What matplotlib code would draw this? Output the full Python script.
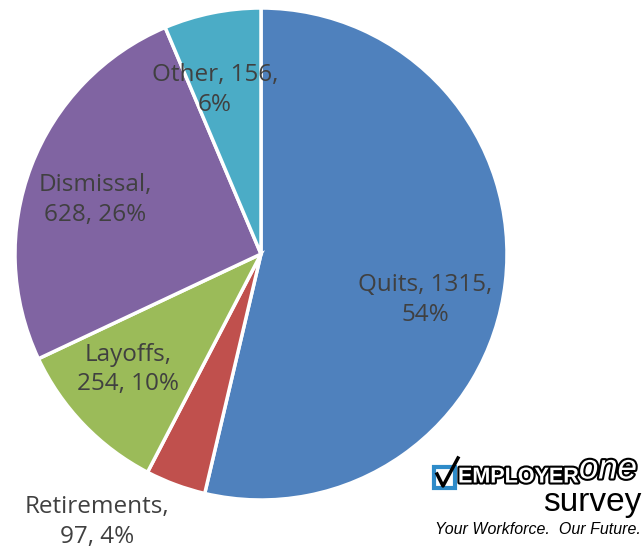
import matplotlib
matplotlib.use("Agg")
from matplotlib import pyplot as plt
import matplotlib.patheffects as pe
import matplotlib.patches as mpatches
from matplotlib.lines import Line2D

categories = ["Quits", "Retirements", "Layoffs", "Dismissal", "Other"]
counts = [1315, 97, 254, 628, 156]
percents = [54, 4, 10, 26, 6]
colors = ["#4F81BD", "#C0504D", "#9BBB59", "#8064A2", "#4BACC6"]

# where the line break goes: after the name, or after the count
breaks = ["count", "name", "name", "name", "count"]
label_pos = [(0.667, -0.187), (-0.667, -1.09), (-0.54, -0.47), (-0.675, 0.22), (-0.187, 0.667)]

fig = plt.figure(figsize=(6.44, 5.53), dpi=100)
ax = fig.add_axes([15 / 644, 53 / 553, 492 / 644, 492 / 553])
ax.pie(counts, colors=colors, startangle=90, counterclock=False,
       wedgeprops=dict(edgecolor="white", linewidth=2.5))
ax.set_xlim(-1, 1)
ax.set_ylim(-1, 1)
ax.set_aspect("equal")
ax.axis("off")

for cat, n, p, br, (x, y) in zip(categories, counts, percents, breaks, label_pos):
    if br == "name":
        txt = f"{cat},\n{n}, {p}%"
    else:
        txt = f"{cat}, {n},\n{p}%"
    ax.text(x, y, txt, ha="center", va="center", fontsize=17.5, color="#404040",
            family="Open Sans", linespacing=1.3, clip_on=False)

# logo
def fx(px):
    return px / 644

def fy(py):
    return 1 - py / 553

fig.patches.append(mpatches.Rectangle((fx(434), fy(488)), 21 / 644, 21 / 553,
                                      transform=fig.transFigure, facecolor="white",
                                      edgecolor="#2E8BC9", linewidth=3))
fig.lines.append(Line2D([fx(437), fx(443), fx(458)], [fy(474), fy(486), fy(458)],
                        transform=fig.transFigure, color="black", linewidth=2.5))
outline = [pe.withStroke(linewidth=3, foreground="black")]
fig.text(fx(458), fy(477), "EMPLOYER", fontsize=15.5, color="white", va="center",
         ha="left", family="Liberation Sans", fontweight="bold", path_effects=outline)
fig.text(fx(579), fy(469), "one", fontsize=25, color="white", va="center",
         ha="left", family="Liberation Sans", style="italic", path_effects=outline)
fig.text(fx(641), fy(502), "survey", fontsize=24, color="black", va="center",
         ha="right", family="Liberation Sans")
fig.text(fx(641), fy(529), "Your Workforce.  Our Future.", fontsize=11.5,
         color="black", va="center", ha="right", family="Liberation Sans", style="italic")

fig.savefig("out.png", dpi=100, facecolor="white")
